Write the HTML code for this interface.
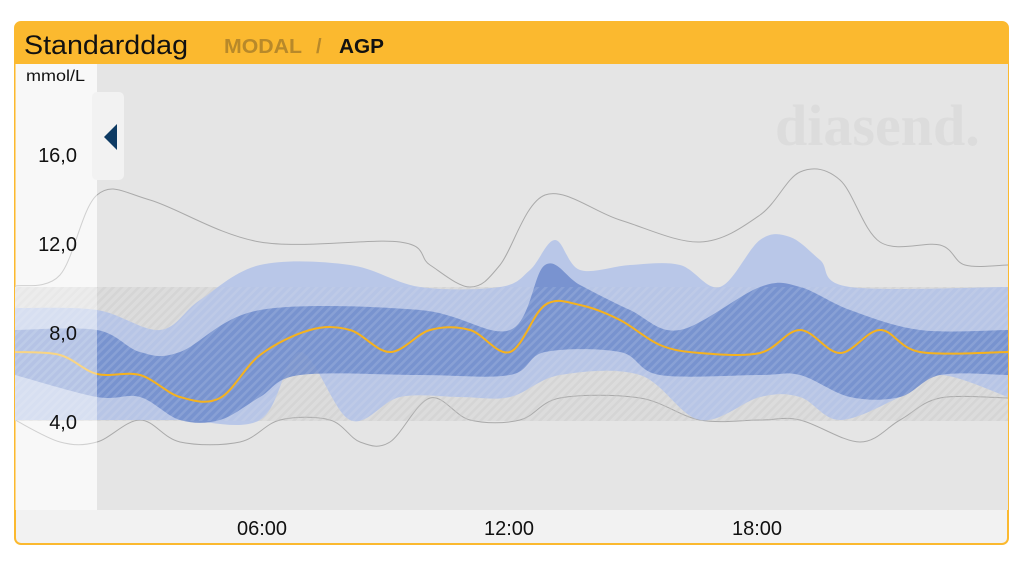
<!DOCTYPE html>
<html><head><meta charset="utf-8"><style>
body{margin:0;background:#fff;width:1024px;height:577px;overflow:hidden;font-family:"Liberation Sans",sans-serif}
</style></head><body>
<svg id="s" width="1024" height="577" xmlns="http://www.w3.org/2000/svg" font-family="Liberation Sans, sans-serif">
<defs>
<pattern id="h" width="6" height="6" patternUnits="userSpaceOnUse" patternTransform="rotate(45)">
<rect width="6" height="6" fill="#dcdcdc"/><rect width="2.5" height="6" fill="#cfcfcf"/></pattern>
<pattern id="h2" width="6" height="6" patternUnits="userSpaceOnUse" patternTransform="rotate(45)">
<rect width="2.5" height="6" fill="#ffffff" opacity="0.12"/></pattern>
<clipPath id="c"><rect x="15" y="64" width="993" height="446"/></clipPath>
</defs>
<rect x="15" y="22" width="993" height="522" rx="6" fill="#f2f2f2" stroke="#fbb92f" stroke-width="2"/>
<path d="M15,64 V28 a6,6 0 0 1 6,-6 H1002 a6,6 0 0 1 6,6 V64 Z" fill="#fbb92f"/>
<text x="24" y="54" font-size="27" fill="#111" textLength="164" lengthAdjust="spacingAndGlyphs">Standarddag</text>
<text x="224" y="53" font-size="20" font-weight="bold" fill="#b8892a" textLength="78" lengthAdjust="spacingAndGlyphs">MODAL</text>
<text x="316" y="53" font-size="20" font-weight="bold" fill="#b8892a">/</text>
<text x="339" y="53" font-size="20" font-weight="bold" fill="#111" textLength="45" lengthAdjust="spacingAndGlyphs">AGP</text>
<rect x="97" y="64" width="911" height="446" fill="#e5e5e5"/>
<text x="775" y="145" font-size="58" font-weight="bold" font-family="Liberation Serif, serif" fill="#dcdcdc">diasend.</text>
<g clip-path="url(#c)" id="g">
<rect x="15" y="287" width="993" height="134" fill="url(#h)"/>
</g>
<rect x="15" y="64" width="82" height="446" fill="#fff" opacity="0.45"/>
<rect x="92" y="92" width="32" height="88" rx="5" fill="#f2f2f2"/>
<polygon points="104,137 117,124 117,150" fill="#0d3a63"/>
<text x="26" y="81" font-size="16" fill="#111" textLength="59" lengthAdjust="spacingAndGlyphs">mmol/L</text>
<g font-size="20" fill="#111" text-anchor="end">
<text x="77" y="162">16,0</text><text x="77" y="251">12,0</text><text x="77" y="340">8,0</text><text x="77" y="429">4,0</text>
</g>
<g font-size="20" fill="#111" text-anchor="middle">
<text x="262" y="535">06:00</text><text x="509" y="535">12:00</text><text x="757" y="535">18:00</text>
</g>
</svg>
<script>
function sm(p){let d="M"+p[0]+","+p[1];const n=p.length/2;
for(let i=0;i<n-1;i++){const g=k=>[p[2*Math.max(0,Math.min(n-1,k))],p[2*Math.max(0,Math.min(n-1,k))+1]];
const p0=g(i-1),p1=g(i),p2=g(i+1),p3=g(i+2);
const c1=[p1[0]+(p2[0]-p0[0])/6,p1[1]+(p2[1]-p0[1])/6],c2=[p2[0]-(p3[0]-p1[0])/6,p2[1]-(p3[1]-p1[1])/6];
d+=" C"+c1+" "+c2+" "+p2;}return d;}
function band(u,l){const r=[];for(let i=l.length-2;i>=0;i-=2)r.push(l[i],l[i+1]);return sm(u)+" L"+sm(r).slice(1)+" Z";}
const oU=[15,308,97,310,160,330,200,300,260,265,350,265,420,287,500,287,530,270,555,240,580,270,630,265,680,265,720,287,760,240,790,237,820,260,850,287,1008,287];
const oL=[15,420,97,420,180,420,260,420,300,352,350,420,400,397,460,397,510,397,560,375,640,375,700,420,760,397,800,397,840,420,900,397,940,375,1008,397];
const iU=[15,330,97,330,140,352,180,352,260,310,420,310,510,330,545,265,580,285,630,310,680,330,760,287,800,287,850,310,920,330,1008,330];
const iL=[15,375,97,397,140,397,180,420,220,420,260,397,300,375,420,375,510,375,545,352,620,352,660,375,760,375,800,375,850,397,900,397,940,375,1008,375];
const med=[15,352,60,355,97,374,140,375,180,397,220,398,260,355,310,330,350,330,390,352,430,330,470,330,510,352,545,305,580,305,620,320,660,345,700,353,760,353,800,330,840,353,880,330,920,352,1008,352];
const mx=[15,286,60,275,97,195,150,200,260,242,400,242,430,265,470,287,500,265,545,195,620,220,700,242,760,215,800,172,840,180,880,242,940,245,965,265,1008,265];
const mn=[15,420,60,442,97,442,140,420,180,442,240,442,280,420,330,420,360,442,390,442,430,398,470,420,520,420,560,398,640,398,700,420,760,420,800,420,860,442,900,420,940,398,1008,398];
const g=document.getElementById("g");
let h="";
h+='<path d="'+sm(mx)+'" fill="none" stroke="#aaa" stroke-width="1"/>';
h+='<path d="'+sm(mn)+'" fill="none" stroke="#aaa" stroke-width="1"/>';
h+='<path d="'+band(oU,oL)+'" fill="#aebfe8" opacity="0.8"/>';
h+='<path d="'+band(iU,iL)+'" fill="#6f8ccc" opacity="0.88"/>';
h+='<rect x="15" y="287" width="993" height="134" fill="url(#h2)"/>';
h+='<path d="'+sm(med)+'" fill="none" stroke="#f5b21e" stroke-width="2"/>';
g.insertAdjacentHTML("beforeend",h);
</script>
</body></html>
